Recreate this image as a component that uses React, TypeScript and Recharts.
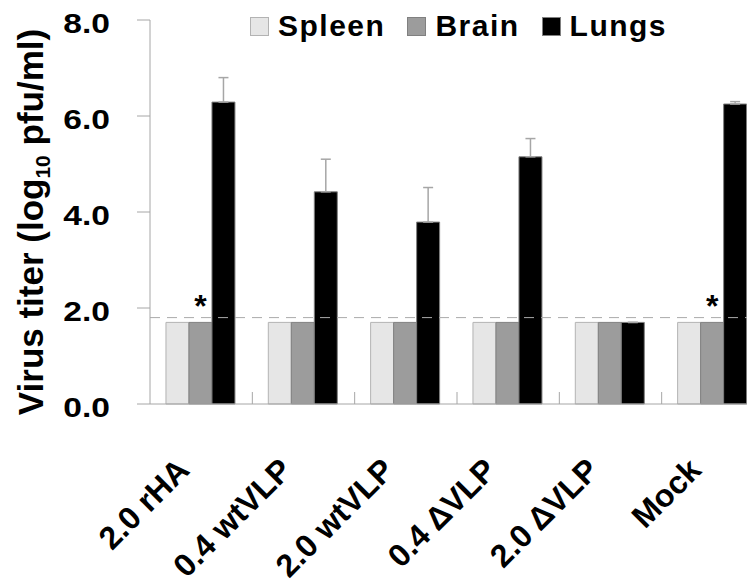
import { BarChart, Bar, XAxis, YAxis, ReferenceLine, ErrorBar, LabelList, Legend } from "recharts";

const categories = ["2.0 rHA", "0.4 wtVLP", "2.0 wtVLP", "0.4 ΔVLP", "2.0 ΔVLP", "Mock"];
const spleen = [1.7, 1.7, 1.7, 1.7, 1.7, 1.7];
const brain = [1.7, 1.7, 1.7, 1.7, 1.7, 1.7];
const lungs = [6.29, 4.42, 3.79, 5.15, 1.7, 6.25];
const lungsErr = [0.51, 0.68, 0.72, 0.38, 0, 0.05];
const stars = ["*", "", "", "", "", "*"];
const yTicks = [0, 2, 4, 6, 8];
const detectionLimit = 1.8;

const FONT = "'Liberation Sans', Arial, sans-serif";
const AXIS = "#a6a6a6";

const series = [
  { key: "spleen", name: "Spleen", fill: "#e6e6e6", stroke: "#b3b3b3" },
  { key: "brain", name: "Brain", fill: "#9c9c9c", stroke: "#808080" },
  { key: "lungs", name: "Lungs", fill: "#000000", stroke: "#808080" },
];

const data = categories.map((name, i) => ({
  name,
  spleen: spleen[i],
  brain: brain[i],
  lungs: lungs[i],
  lungsErr: [0, lungsErr[i]],
  star: stars[i],
}));

function ValueTick(props: any) {
  const { x, y, payload } = props;
  return (
    <text
      transform={`translate(${x},${y + 3}) scale(1.2,1)`}
      textAnchor="end"
      dominantBaseline="central"
      fontSize={28}
      fontWeight="bold"
      fontFamily={FONT}
      fill="#000"
    >
      {Number(payload.value).toFixed(1)}
    </text>
  );
}

function CategoryTick(props: any) {
  const { x, y, payload, index } = props;
  const half = payload && payload.offset ? payload.offset : 51.2;
  const ax = x - 10;
  const ay = y + 68;
  return (
    <g>
      {index > 0 && (
        <line x1={x - half} x2={x - half} y1={y} y2={y - 12} stroke={AXIS} />
      )}
      <text
        x={ax}
        y={ay}
        transform={`rotate(-45 ${ax} ${ay})`}
        textAnchor="end"
        fontSize={32}
        fontWeight="bold"
        fontFamily={FONT}
        fill="#000"
      >
        {payload.value}
      </text>
    </g>
  );
}

function YTitle(props: any) {
  const vb = props.viewBox || { x: 0, y: 12, width: 142, height: 384 };
  const cx = vb.x + 35;
  const cy = vb.y + vb.height / 2 + 10;
  return (
    <text
      x={cx}
      y={cy}
      transform={`rotate(-90 ${cx} ${cy})`}
      textAnchor="middle"
      fontSize={35}
      fontWeight="bold"
      fontFamily={FONT}
      fill="#000"
    >
      Virus titer (log
      <tspan fontSize={21} dy={7}>10</tspan>
      <tspan dy={-7}> pfu/ml)</tspan>
    </text>
  );
}

function Star(props: any) {
  const { x, y, width, value } = props;
  if (!value) return null;
  return (
    <text
      x={x + width / 2}
      y={y - 5}
      textAnchor="middle"
      fontSize={32}
      fontWeight="bold"
      fontFamily={FONT}
      fill="#000"
    >
      {value}
    </text>
  );
}

function LegendBox() {
  return (
    <div style={{ display: "flex", alignItems: "center", fontFamily: FONT }}>
      {series.map((s) => (
        <div key={s.key} style={{ display: "flex", alignItems: "center", marginRight: 22 }}>
          <span
            style={{
              display: "inline-block",
              width: 17,
              height: 17,
              background: s.fill,
              border: `1px solid ${s.stroke}`,
              marginRight: 9,
            }}
          />
          <span style={{ fontSize: 30, fontWeight: "bold", letterSpacing: 1.5, lineHeight: 1, color: "#000" }}>
            {s.name}
          </span>
        </div>
      ))}
    </div>
  );
}

export default function App() {
  return (
    <div style={{ width: 740, height: 575, overflow: "hidden" }}>
      <BarChart
        width={800}
        height={575}
        data={data}
        margin={{ top: 12, right: 44, bottom: 0, left: 0 }}
        barCategoryGap="15.6%"
        barGap={0}
      >
        <Legend
          layout="horizontal"
          verticalAlign="middle"
          align="center"
          content={<LegendBox />}
          wrapperStyle={{ top: 3, left: 242, width: "auto", height: "auto" }}
        />
        <XAxis
          dataKey="name"
          interval={0}
          height={179}
          tickSize={0}
          tickMargin={0}
          tickLine={false}
          axisLine={{ stroke: AXIS }}
          tick={<CategoryTick />}
        />
        <YAxis
          width={142}
          domain={[0, 8]}
          ticks={yTicks}
          tickSize={13}
          tickMargin={27}
          tickLine={{ stroke: AXIS }}
          axisLine={{ stroke: AXIS }}
          tick={<ValueTick />}
          label={<YTitle />}
        />
        <ReferenceLine y={detectionLimit} stroke="#ababab" strokeDasharray="10 7" />
        {series.map((s) => (
          <Bar
            key={s.key}
            dataKey={s.key}
            name={s.name}
            fill={s.fill}
            stroke={s.stroke}
            strokeWidth={1}
            isAnimationActive={false}
          >
            {s.key === "lungs" && (
              <ErrorBar dataKey="lungsErr" direction="y" width={5} stroke="#a6a6a6" strokeWidth={1.5} />
            )}
            {s.key === "brain" && <LabelList dataKey="star" content={<Star />} />}
          </Bar>
        ))}
      </BarChart>
    </div>
  );
}
